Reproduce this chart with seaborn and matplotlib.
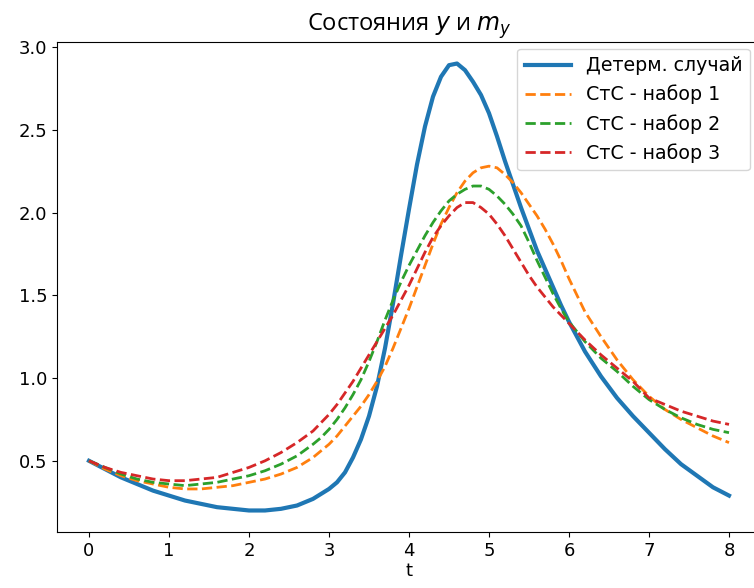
import matplotlib
matplotlib.use("Agg")
import matplotlib.pyplot as plt
import seaborn as sns
import pandas as pd

t = [0.0, 0.2, 0.4, 0.6, 0.8, 1.0, 1.2, 1.4, 1.6, 1.8, 2.0, 2.2, 2.4, 2.6,
     2.8, 2.9, 3.0, 3.1, 3.2, 3.3, 3.4, 3.5, 3.6, 3.7, 3.8, 3.9,
     4.0, 4.1, 4.2, 4.3, 4.4, 4.5, 4.6, 4.7, 4.8, 4.9,
     5.0, 5.1, 5.2, 5.3, 5.4, 5.5, 5.6, 5.7, 5.8, 5.9,
     6.0, 6.2, 6.4, 6.6, 6.8, 7.0, 7.2, 7.4, 7.6, 7.8, 8.0]

determ = [0.50, 0.45, 0.40, 0.36, 0.32, 0.29, 0.26, 0.24, 0.22, 0.21, 0.20, 0.20, 0.21, 0.23,
          0.27, 0.30, 0.33, 0.37, 0.43, 0.52, 0.63, 0.77, 0.95, 1.18, 1.45, 1.74,
          2.02, 2.29, 2.52, 2.70, 2.82, 2.89, 2.90, 2.86, 2.79, 2.71,
          2.60, 2.46, 2.31, 2.17, 2.03, 1.90, 1.77, 1.66, 1.55, 1.44,
          1.34, 1.16, 1.01, 0.88, 0.77, 0.67, 0.57, 0.48, 0.41, 0.34, 0.29]

set1 = [0.50, 0.45, 0.41, 0.38, 0.36, 0.34, 0.33, 0.33, 0.34, 0.35, 0.37, 0.39, 0.42, 0.46,
        0.52, 0.56, 0.60, 0.65, 0.71, 0.77, 0.83, 0.90, 0.98, 1.07, 1.18, 1.30,
        1.42, 1.55, 1.68, 1.81, 1.93, 2.03, 2.12, 2.19, 2.24, 2.27,
        2.28, 2.27, 2.23, 2.18, 2.12, 2.05, 1.98, 1.90, 1.81, 1.71,
        1.60, 1.40, 1.25, 1.11, 0.99, 0.89, 0.81, 0.75, 0.70, 0.65, 0.61]

set2 = [0.50, 0.46, 0.42, 0.39, 0.37, 0.36, 0.35, 0.36, 0.37, 0.39, 0.41, 0.44, 0.48, 0.53,
        0.60, 0.64, 0.69, 0.75, 0.82, 0.90, 0.99, 1.10, 1.22, 1.35, 1.47, 1.58,
        1.68, 1.77, 1.86, 1.94, 2.01, 2.07, 2.11, 2.14, 2.16, 2.16,
        2.14, 2.10, 2.05, 1.99, 1.92, 1.82, 1.71, 1.61, 1.51, 1.42,
        1.34, 1.22, 1.12, 1.04, 0.95, 0.87, 0.81, 0.76, 0.72, 0.69, 0.67]

set3 = [0.50, 0.46, 0.43, 0.41, 0.39, 0.38, 0.38, 0.39, 0.40, 0.43, 0.46, 0.50, 0.55, 0.61,
        0.68, 0.73, 0.78, 0.84, 0.91, 0.98, 1.06, 1.14, 1.22, 1.30, 1.38, 1.47,
        1.56, 1.66, 1.76, 1.85, 1.92, 1.98, 2.03, 2.06, 2.06, 2.03,
        1.99, 1.93, 1.86, 1.78, 1.70, 1.62, 1.55, 1.49, 1.43, 1.38,
        1.33, 1.23, 1.14, 1.06, 0.98, 0.88, 0.84, 0.80, 0.77, 0.74, 0.72]

labels = ["Детерм. случай", "СтС - набор 1", "СтС - набор 2", "СтС - набор 3"]
colors = ["#1f77b4", "#ff7f0e", "#2ca02c", "#d62728"]

W, H = 754, 588
fig = plt.figure(figsize=(W / 100, H / 100), dpi=100)
ax = fig.add_axes([57 / W, (H - 532) / H, (761 - 57) / W, (532 - 42) / H])

series = [determ, set1, set2, set3]
for i, (vals, lab, col) in enumerate(zip(series, labels, colors)):
    df = pd.DataFrame({"t": t, "y": vals})
    if i == 0:
        sns.lineplot(data=df, x="t", y="y", ax=ax, color=col, linewidth=3, label=lab)
    else:
        sns.lineplot(data=df, x="t", y="y", ax=ax, color=col, linewidth=2,
                     linestyle="--", label=lab)

ax.set_xlim(-0.4, 8.4)
ax.set_ylim(0.07, 3.03)
ax.set_xticks(range(0, 9))
ax.set_yticks([0.5, 1.0, 1.5, 2.0, 2.5, 3.0])
ax.set_xlabel("t", fontsize=13, labelpad=2)
ax.set_ylabel("")
ax.tick_params(labelsize=13)
ax.set_title("Состояния $y$ и $m_y$", fontsize=17, pad=8,
             family=["Open Sans", "DejaVu Sans"])
ax.legend(loc="upper right", fontsize=13.7, handlelength=2.4,
          borderaxespad=0.35, bbox_to_anchor=(0.994, 1.0))

fig.savefig("out.png", dpi=100)
